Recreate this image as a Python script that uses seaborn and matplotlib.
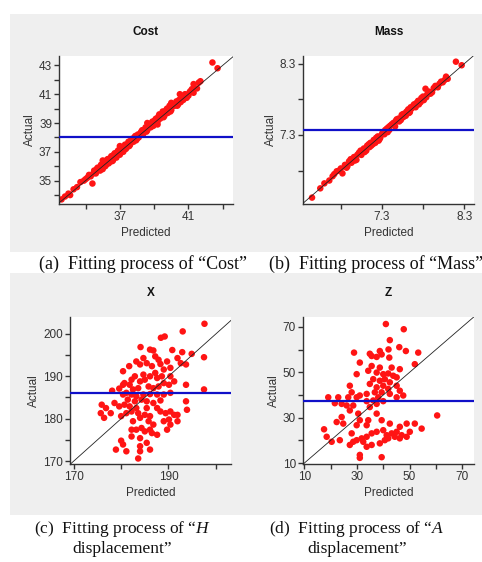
import numpy as np
import pandas as pd
import matplotlib
matplotlib.use('Agg')
import matplotlib.pyplot as plt
import seaborn as sns
from matplotlib.patches import Rectangle

sns.set_theme(style='white')
plt.rcParams['font.family'] = ['Liberation Sans', 'DejaVu Sans']
plt.rcParams['mathtext.fontset'] = 'custom'
plt.rcParams['mathtext.rm'] = 'Liberation Serif'
plt.rcParams['mathtext.it'] = 'Liberation Serif:italic'

# ---- data: (predicted, actual) ----
cost_pred = [33.6, 33.8, 34.0, 34.1, 34.3, 34.5, 34.7, 34.9, 35.0, 35.1, 35.2, 35.3, 35.4, 35.45,
             35.5, 35.6, 35.65, 35.7, 35.8, 35.85, 35.9, 36.0, 36.0, 36.05, 36.1, 36.15, 36.2,
             36.25, 36.3, 36.35, 36.4, 36.45, 36.5, 36.55, 36.6, 36.65, 36.7, 36.75, 36.8,
             36.85, 36.9, 36.95, 37.0, 37.0, 37.05, 37.1, 37.15, 37.2, 37.25, 37.3, 37.35,
             37.4, 37.45, 37.5, 37.55, 37.6, 37.65, 37.7, 37.75, 37.8, 37.85, 37.9, 37.95,
             38.0, 38.05, 38.1, 38.15, 38.2, 38.25, 38.3, 38.35, 38.4, 38.45, 38.5, 38.55,
             38.6, 38.6, 38.65, 38.7, 38.75, 38.8, 38.85, 38.9, 38.95, 39.0, 39.05, 39.1,
             39.15, 39.2, 39.2, 39.25, 39.3, 39.35, 39.4, 39.45, 39.5, 39.55, 39.6, 39.65,
             39.7, 39.75, 39.8, 39.85, 39.9, 39.95, 40.0, 40.0, 40.05, 40.1, 40.2, 40.25,
             40.3, 40.35, 40.4, 40.45, 40.5, 40.55, 40.6, 40.7, 40.75, 40.8, 40.9, 41.0,
             41.05, 41.1, 41.2, 41.3, 41.3, 41.5, 41.6, 41.7, 42.4, 42.7]
cost_act = [33.7, 33.9, 34.1, 34.0, 34.4, 34.55, 34.9, 35.0, 35.1, 35.2, 35.4, 35.3, 34.8, 35.5,
            35.7, 35.5, 35.8, 35.9, 35.9, 35.7, 36.1, 35.8, 36.4, 36.2, 36.3, 36.0, 36.1,
            36.45, 36.5, 36.2, 36.3, 36.55, 36.7, 36.35, 36.4, 36.8, 36.9, 36.75, 36.6,
            37.0, 37.1, 36.85, 36.8, 37.4, 37.2, 37.3, 37.05, 37.0, 37.35, 37.5, 37.2,
            37.3, 37.5, 37.7, 37.4, 37.5, 37.8, 37.9, 37.85, 37.7, 38.0, 38.1, 37.8,
            37.9, 38.2, 38.0, 38.15, 38.3, 38.4, 38.5, 38.2, 38.4, 38.55, 38.7, 38.4,
            38.5, 39.0, 38.8, 38.9, 38.8, 38.7, 39.0, 39.1, 38.8, 38.9, 39.2, 39.3,
            39.15, 39.1, 38.9, 39.45, 39.6, 39.3, 39.5, 39.6, 39.8, 39.4, 39.5, 39.75,
            39.9, 40.0, 39.7, 40.0, 40.2, 39.8, 39.9, 40.4, 40.15, 40.3, 40.2, 40.35,
            40.5, 40.2, 40.3, 40.6, 41.0, 40.45, 40.7, 40.6, 40.85, 41.0, 40.75, 40.9,
            41.1, 41.2, 41.35, 41.1, 41.7, 41.4, 41.8, 41.9, 43.2, 42.8]

mass_pred = [6.45, 6.55, 6.60, 6.66, 6.70, 6.72, 6.75, 6.78, 6.80, 6.82, 6.85, 6.87, 6.88, 6.90,
             6.92, 6.93, 6.96, 6.97, 6.99, 7.00, 7.02, 7.04, 7.05, 7.06, 7.08, 7.09, 7.11,
             7.12, 7.14, 7.15, 7.16, 7.17, 7.19, 7.20, 7.22, 7.23, 7.25, 7.26, 7.27, 7.28,
             7.30, 7.31, 7.33, 7.34, 7.36, 7.37, 7.38, 7.39, 7.40, 7.42, 7.44, 7.45, 7.46,
             7.47, 7.48, 7.50, 7.51, 7.53, 7.54, 7.55, 7.56, 7.57, 7.59, 7.60, 7.62, 7.63,
             7.64, 7.65, 7.66, 7.68, 7.69, 7.71, 7.72, 7.74, 7.75, 7.77, 7.78, 7.80, 7.81,
             7.83, 7.84, 7.85, 7.87, 7.89, 7.91, 7.93, 7.95, 7.98, 8.00, 8.02, 8.04, 8.06,
             8.08, 8.10, 8.20, 8.27]
mass_act = [6.42, 6.55, 6.62, 6.66, 6.72, 6.75, 6.79, 6.80, 6.83, 6.76, 6.88, 6.84, 6.86, 6.93,
            6.96, 6.91, 6.99, 6.94, 6.95, 7.02, 7.05, 7.08, 7.02, 7.08, 7.11, 7.06, 7.08,
            7.15, 7.17, 7.13, 7.19, 7.15, 7.17, 7.23, 7.19, 7.26, 7.28, 7.22, 7.24, 7.26,
            7.31, 7.34, 7.31, 7.37, 7.39, 7.34, 7.41, 7.37, 7.43, 7.45, 7.47, 7.44, 7.42,
            7.50, 7.52, 7.53, 7.49, 7.51, 7.58, 7.59, 7.55, 7.60, 7.57, 7.63, 7.66, 7.61,
            7.62, 7.69, 7.67, 7.71, 7.73, 7.69, 7.75, 7.78, 7.73, 7.76, 7.82, 7.84, 7.79,
            7.95, 7.83, 7.87, 7.91, 7.88, 7.90, 7.96, 7.99, 7.97, 8.02, 8.05, 8.04, 8.07,
            8.12, 8.09, 8.33, 8.28]

x_pred = [197.6, 193.0, 188.4, 189.2, 184.1, 186.1, 186.8, 190.8, 192.9, 194.9, 197.5, 187.2,
          187.9, 184.7, 183.2, 181.7, 180.4, 184.0, 185.4, 186.5, 188.3, 189.7, 191.9, 192.6,
          193.7, 190.4, 189.0, 187.2, 186.1, 184.7, 182.9, 182.2, 180.4, 181.8, 184.0, 185.0,
          187.6, 188.6, 190.4, 191.2, 190.1, 189.0, 187.9, 186.8, 185.8, 183.6, 182.5, 181.1,
          180.4, 178.1, 193.7, 197.5, 182.2, 183.2, 184.7, 186.1, 187.6, 189.0, 190.4, 181.4,
          182.9, 184.3, 185.4, 186.8, 188.3, 175.9, 176.8, 178.6, 179.6, 180.7, 181.8, 183.2,
          185.4, 187.6, 193.7, 193.9, 175.7, 176.4, 177.8, 180.0, 181.1, 182.2, 183.6, 185.0,
          184.0, 186.1, 188.3, 189.4, 190.4, 191.2, 191.9, 190.1, 189.0, 186.8, 185.8, 182.5,
          182.2, 183.2, 184.3, 185.0, 186.1, 186.5, 187.6, 189.7, 190.4, 182.2, 184.0, 185.4,
          184.0, 180.0, 180.4, 178.9, 181.1, 184.0, 186.1, 183.6, 191.9, 179.6, 180.7]
x_act = [202.4, 200.6, 199.1, 199.4, 196.9, 196.3, 196.1, 196.2, 195.7, 195.3, 194.5, 194.7,
         193.9, 194.3, 193.5, 192.4, 191.2, 192.8, 193.1, 192.4, 192.9, 193.5, 194.3, 193.1,
         192.8, 192.0, 191.6, 190.8, 190.0, 190.4, 190.0, 189.2, 188.0, 188.0, 188.8, 189.2,
         189.6, 190.0, 190.0, 188.8, 188.0, 188.4, 187.6, 187.2, 187.6, 187.2, 186.9, 186.1,
         185.7, 186.6, 188.0, 186.9, 185.7, 185.3, 185.7, 185.8, 185.7, 185.7, 186.1, 184.5,
         184.1, 184.5, 184.1, 183.7, 184.3, 183.3, 182.5, 183.7, 182.9, 183.3, 182.9, 182.5,
         182.5, 182.5, 184.1, 182.1, 181.3, 180.2, 181.3, 180.6, 181.3, 181.7, 181.3, 180.9,
         180.2, 180.6, 181.7, 181.3, 181.7, 180.9, 179.4, 179.8, 179.4, 178.6, 179.4, 179.4,
         177.4, 177.4, 177.8, 177.0, 177.4, 176.6, 176.2, 177.4, 178.6, 175.8, 175.4, 174.3,
         173.5, 174.8, 173.9, 172.7, 172.3, 172.3, 172.7, 170.6, 180.9, 187.1, 188.4]

z_pred = [41.0, 47.8, 42.5, 46.1, 48.6, 53.3, 28.9, 34.9, 38.7, 39.4, 42.0, 31.1, 35.6, 37.5,
          42.3, 52.0, 35.6, 38.7, 43.2, 46.3, 29.9, 34.3, 37.5, 40.0, 41.9, 43.8, 45.1, 40.6,
          38.7, 36.2, 34.9, 37.5, 40.0, 42.5, 45.1, 46.3, 41.9, 39.4, 36.8, 33.7, 31.1, 27.3,
          28.0, 29.9, 26.7, 19.1, 22.9, 42.5, 45.1, 47.6, 38.1, 36.2, 33.7, 40.0, 37.5, 24.2,
          26.1, 28.6, 27.3, 21.6, 30.5, 34.9, 37.5, 39.4, 34.3, 31.1, 24.2, 22.3, 24.8, 29.9,
          33.7, 42.5, 46.3, 48.9, 52.0, 54.6, 60.5, 17.5, 18.5, 20.4, 23.5, 28.0, 28.6, 27.3,
          29.9, 31.8, 33.7, 35.6, 37.5, 40.0, 41.3, 43.2, 45.1, 47.0, 48.9, 40.6, 38.7, 35.6,
          33.7, 32.4, 31.1, 31.1, 39.4, 50.1, 46.3, 44.4, 41.9]
z_act = [71.3, 69.0, 64.2, 61.1, 59.4, 58.7, 58.7, 58.2, 59.4, 57.9, 60.1, 54.3, 57.2, 56.8,
         56.5, 53.6, 52.8, 52.1, 52.1, 51.4, 49.2, 50.7, 49.9, 49.2, 49.5, 48.5, 47.8, 47.0,
         46.3, 47.0, 44.9, 43.4, 44.1, 45.6, 44.1, 41.9, 42.7, 41.2, 41.2, 40.5, 39.8, 44.1,
         41.2, 39.0, 39.0, 39.0, 39.0, 40.5, 39.0, 39.8, 39.0, 37.6, 37.3, 37.3, 36.1, 36.1,
         35.4, 35.4, 33.2, 36.4, 31.8, 34.7, 31.8, 28.9, 28.9, 28.9, 30.3, 28.1, 27.4, 26.7,
         26.7, 27.4, 26.0, 27.4, 27.4, 25.2, 31.0, 24.9, 21.6, 19.4, 20.1, 23.1, 19.4, 18.0,
         20.1, 20.9, 21.6, 23.1, 23.8, 24.5, 22.3, 23.1, 23.8, 22.3, 21.6, 20.1, 18.7, 18.0,
         17.2, 19.4, 13.6, 12.3, 12.6, 23.8, 20.9, 21.6, 20.9]

titles = ['Cost', 'Mass', 'X', 'Z']
means = [38.05, 7.37, 186.05, 37.3]

fig = plt.figure(figsize=(4.82, 5.62), dpi=100)
W, H = 482, 562

def px_rect(x0, y0, x1, y1):
    return [x0 / W, 1 - y1 / H, (x1 - x0) / W, (y1 - y0) / H]

# grey panel backgrounds
for (x0, y0, x1, y1) in [(10, 14, 482, 252), (10, 273, 482, 515)]:
    r = px_rect(x0, y0, x1, y1)
    fig.patches.append(Rectangle((r[0], r[1]), r[2], r[3], transform=fig.transFigure,
                                 facecolor='#efefef', edgecolor='none', zorder=-5))

panels = [
    dict(rect=px_rect(59, 56, 233, 204), pred=cost_pred, act=cost_act,
         xlim=(33.45, 43.6), ylim=(33.38, 43.65),
         xt=[35, 37, 39, 41, 43], xl=['', '37', '', '41', ''],
         yt=list(range(34, 44)), yl=['', '35', '', '37', '', '39', '', '41', '', '43']),
    dict(rect=px_rect(303, 56, 474, 204), pred=mass_pred, act=mass_act,
         xlim=(6.34, 8.42), ylim=(6.33, 8.41),
         xt=[6.8, 7.3, 7.8, 8.3], xl=['', '7.3', '', '8.3'],
         yt=[6.8, 7.3, 7.8, 8.3], yl=['', '7.3', '', '8.3']),
    dict(rect=px_rect(70, 317, 231, 464), pred=x_pred, act=x_act,
         xlim=(169.2, 203.2), ylim=(169.3, 204.0),
         xt=[170, 180, 190, 200], xl=['170', '', '190', ''],
         yt=[170, 175, 180, 185, 190, 195, 200], yl=['170', '', '180', '', '190', '', '200']),
    dict(rect=px_rect(303, 317, 474, 464), pred=z_pred, act=z_act,
         xlim=(9.5, 74.5), ylim=(9.6, 74.4),
         xt=[10, 20, 30, 40, 50, 60, 70], xl=['10', '', '30', '', '50', '', '70'],
         yt=[10, 20, 30, 40, 50, 60, 70], yl=['10', '', '30', '', '50', '', '70']),
]

for p, title, m in zip(panels, titles, means):
    ax = fig.add_axes(p['rect'])
    ax.set_facecolor('white')
    df = pd.DataFrame({'Predicted': p['pred'], 'Actual': p['act']})
    lo = min(p['xlim'][0], p['ylim'][0])
    hi = max(p['xlim'][1], p['ylim'][1])
    ax.plot([lo, hi], [lo, hi], color='#222222', lw=0.6, zorder=3)
    sns.scatterplot(data=df, x='Predicted', y='Actual', ax=ax, color='#ff1414',
                    s=22, edgecolor='none', linewidth=0, zorder=2)
    ax.axhline(m, color='#1010c8', lw=1.6, zorder=4)
    ax.set_xlim(p['xlim'])
    ax.set_ylim(p['ylim'])
    ax.set_xticks(p['xt'])
    ax.set_xticklabels(p['xl'])
    ax.set_yticks(p['yt'])
    ax.set_yticklabels(p['yl'])
    for s in ['top', 'right']:
        ax.spines[s].set_visible(False)
    for s in ['left', 'bottom']:
        ax.spines[s].set_color('#333333')
        ax.spines[s].set_linewidth(1.0)
    ax.tick_params(axis='both', direction='out', length=3.5, width=1.0, color='#333333',
                   labelsize=8.5, labelcolor='#333333', pad=1.5, left=True, bottom=True)
    ax.set_xlabel('Predicted', fontsize=8.5, color='#333333', labelpad=3)
    ax.set_ylabel('Actual', fontsize=8.5, color='#333333', labelpad=2)
    ax.set_title(title, fontsize=8.5, fontweight='bold', color='#111111', pad=15)

# captions
top_kw = dict(family='Liberation Serif', fontsize=13, color='#111111', ha='center', va='center')
bot_kw = dict(family='Liberation Serif', fontsize=12.5, color='#111111', ha='center', va='center')
fig.text(143 / W, 1 - 264 / H, '(a)  Fitting process of \u201cCost\u201d', **top_kw)
fig.text(376 / W, 1 - 264 / H, '(b)  Fitting process of \u201cMass\u201d', **top_kw)
fig.text(122 / W, 1 - 529 / H, '(c)  Fitting process of \u201c$\\mathit{H}$', **bot_kw)
fig.text(122 / W, 1 - 549 / H, 'displacement\u201d', **bot_kw)
fig.text(357 / W, 1 - 529 / H, '(d)  Fitting process of \u201c$\\mathit{A}$', **bot_kw)
fig.text(357 / W, 1 - 549 / H, 'displacement\u201d', **bot_kw)

fig.savefig('out.png', dpi=100, facecolor='white')
